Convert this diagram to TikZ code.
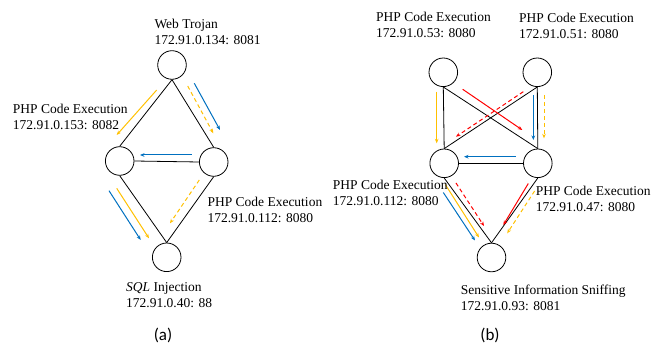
\documentclass[tikz,border=0pt]{standalone}
\usepackage{fontspec}
\setmainfont{Liberation Serif}
\newfontfamily\capfont{Carlito}
\usetikzlibrary{arrows.meta}
\definecolor{flowgold}{RGB}{255,192,0}
\definecolor{flowblue}{RGB}{0,112,192}
\definecolor{flowred}{RGB}{255,0,0}
\begin{document}
\begin{tikzpicture}[x=1pt,y=-1pt,
  host/.style={circle,draw,line width=0.8pt,minimum size=28.6pt,inner sep=0pt},
  link/.style={line width=0.8pt},
  lbl/.style={anchor=west,align=left,inner sep=0pt,font=\fontsize{13.5}{16}\selectfont},
  subcap/.style={inner sep=0pt,font=\capfont\fontsize{17}{20}\selectfont},
  flow/.style={line width=1pt,-{Stealth[length=4.5pt,width=3.6pt]}},
  goldflow/.style={flow,draw=flowgold},
  blueflow/.style={flow,draw=flowblue},
  redflow/.style={flow,draw=flowred},
  dashline/.style={dash pattern=on 4pt off 3pt}
]
\useasboundingbox (0,0) rectangle (651,344);

% ---------------- (a) ----------------
\node[host] (wt)  at (172,65)   {};
\node[host] (pl)  at (119.7,161){};
\node[host] (pr)  at (213.7,162){};
\node[host] (sq)  at (166.7,257.3){};

\draw[link] (wt.south) -- (pl.north);
\draw[link] (wt.south) -- (pr.north);
\draw[link] (pl.east)  -- (pr.west);
\draw[link] (pl.south) -- (sq.north);
\draw[link] (pr.south) -- (sq.north);

\coordinate (a1s) at (156.7,90);   \coordinate (a1e) at (116.7,135);
\coordinate (a2s) at (187.7,86);   \coordinate (a2e) at (213.3,133.3);
\coordinate (a3s) at (194.3,83.3); \coordinate (a3e) at (220,130);
\coordinate (a4s) at (191.7,155);  \coordinate (a4e) at (140,155);
\coordinate (a5s) at (109,190.7);  \coordinate (a5e) at (140.7,240);
\coordinate (a6s) at (116.7,188.3);\coordinate (a6e) at (149,238.3);
\coordinate (a7s) at (199.3,180);  \coordinate (a7e) at (170,223.3);

\draw[goldflow] (a1s) -- (a1e);
\draw[goldflow,dashline] (a2s) -- (a2e);
\draw[blueflow] (a3s) -- (a3e);
\draw[blueflow] (a4s) -- (a4e);
\draw[blueflow] (a5s) -- (a5e);
\draw[goldflow] (a6s) -- (a6e);
\draw[goldflow,dashline] (a7s) -- (a7e);

\node[lbl] (twt) at (154.3,31.6) {Web Trojan\\172.91.0.134: 8081};
\node[lbl] (tpl) at (12.7,116.8) {PHP Code Execution\\172.91.0.153: 8082};
\node[lbl] (tpr) at (207.3,209.8) {PHP Code Execution\\172.91.0.112: 8080};
\node[lbl] (tsq) at (126,295.3) {\textit{SQL} Injection\\172.91.0.40: 88};
\node[subcap] (capa) at (163,335) {(a)};

% ---------------- (b) ----------------
\node[host] (tl) at (443.3,72.3) {};
\node[host] (tr) at (537.3,72.3) {};
\node[host] (ml) at (444.2,163.3) {};
\node[host] (mr) at (537.8,163.3) {};
\node[host] (si) at (491.5,257.5) {};

\draw[link] (tl.south) -- (ml.north);
\draw[link] (tl.south) -- (mr.north);
\draw[link] (tr.south) -- (ml.north);
\draw[link] (tr.south) -- (mr.north);
\draw[link] (ml.east)  -- (mr.west);
\draw[link] (ml.south) -- (si.north);
\draw[link] (mr.south) -- (si.north);

\coordinate (b1s) at (436.7,91.7);  \coordinate (b1e) at (436.7,143.3);
\coordinate (b2s) at (462.7,89.3);  \coordinate (b2e) at (522.3,130);
\coordinate (b3s) at (523.3,91.7);  \coordinate (b3e) at (456,136.7);
\coordinate (b4s) at (533.3,95);    \coordinate (b4e) at (533.3,140);
\coordinate (b5s) at (544,95);      \coordinate (b5e) at (544,138.3);
\coordinate (b6s) at (515.7,156.7); \coordinate (b6e) at (464,156.7);
\coordinate (b7s) at (445.3,184.5); \coordinate (b7e) at (479,237.5);
\coordinate (b8s) at (443.3,192.5); \coordinate (b8e) at (475,240.5);
\coordinate (b9s) at (456,183);     \coordinate (b9e) at (484,226);
\coordinate (b10s) at (528.3,183.5);\coordinate (b10e) at (503.3,225);
\coordinate (b11s) at (534.6,191);  \coordinate (b11e) at (507.2,233.3);

\draw[goldflow] (b1s) -- (b1e);
\draw[redflow] (b2s) -- (b2e);
\draw[redflow,dashline] (b3s) -- (b3e);
\draw[blueflow] (b4s) -- (b4e);
\draw[goldflow,dashline] (b5s) -- (b5e);
\draw[blueflow] (b6s) -- (b6e);
\draw[goldflow] (b7s) -- (b7e);
\draw[blueflow] (b8s) -- (b8e);
\draw[redflow,dashline] (b9s) -- (b9e);
\draw[redflow] (b10s) -- (b10e);
\draw[goldflow,dashline] (b11s) -- (b11e);

\node[lbl] (ttl) at (376,25) {PHP Code Execution\\172.91.0.53: 8080};
\node[lbl] (ttr) at (519,25.8) {PHP Code Execution\\172.91.0.51: 8080};
\node[lbl] (tml) at (332.7,192.5) {PHP Code Execution\\172.91.0.112: 8080};
\node[lbl] (tmr) at (535.6,199.1) {PHP Code Execution\\172.91.0.47: 8080};
\node[lbl] (tsi) at (460.7,298.1) {Sensitive Information Sniffing\\172.91.0.93: 8081};
\node[subcap] (capb) at (490,335) {(b)};
\end{tikzpicture}
\end{document}
